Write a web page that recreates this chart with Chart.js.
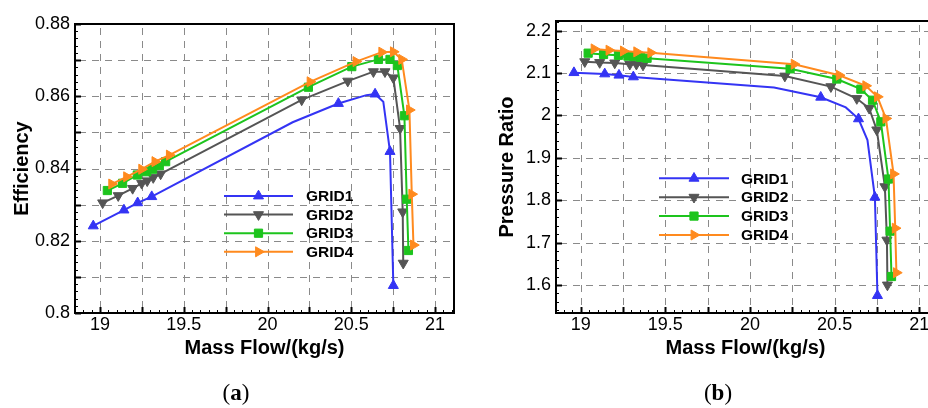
<!DOCTYPE html>
<html>
<head>
<meta charset="utf-8">
<script src="https://cdn.jsdelivr.net/npm/chart.js@4.4.1/dist/chart.umd.min.js"></script>
<style>
    html, body { margin: 0; padding: 0; background: #fff; }
    body { position: relative; width: 928px; height: 408px; overflow: hidden; }
    canvas { position: absolute; top: 0; }
    #effChart { left: 0; }
    #prChart { left: 464px; }
    .cap { position: absolute; top: 382px; width: 60px; text-align: center;
           font: 23px/22px "Liberation Serif", "DejaVu Serif", serif; color: #000; }
</style>
</head>
<body>
<canvas id="effChart" width="464" height="408"></canvas>
<canvas id="prChart" width="480" height="408"></canvas>
<div class="cap" style="left:206px">(<b>a</b>)</div>
<div class="cap" style="left:688px">(<b>b</b>)</div>
<script>
// ---- values ----
const gridNames = ['GRID1', 'GRID2', 'GRID3', 'GRID4'];

const flowTicks = [19, 19.25, 19.5, 19.75, 20, 20.25, 20.5, 20.75, 21];
const effTicks = [0.8, 0.81, 0.82, 0.83, 0.84, 0.85, 0.86, 0.87, 0.88];
const prTicks = [1.6, 1.7, 1.8, 1.9, 2, 2.1, 2.2];

// (a) efficiency vs mass flow
const effFlow1 = [18.96, 19.143, 19.225, 19.309, 20.15, 20.423, 20.59, 20.642, 20.691, 20.731, 20.751];
const effGrid1 = [0.8241, 0.8285, 0.8305, 0.8322, 0.8528, 0.858, 0.8603, 0.8606, 0.8585, 0.8447, 0.8076];
const effBends1 = [4, 6, 8]; // line vertices drawn without a symbol

const effFlow2 = [19.016, 19.109, 19.195, 19.249, 19.282, 19.318, 19.362, 20.204, 20.479, 20.632, 20.701, 20.751, 20.791, 20.807, 20.81];
const effGrid2 = [0.8305, 0.8325, 0.8345, 0.8359, 0.8366, 0.8375, 0.8385, 0.859, 0.8642, 0.8668, 0.8668, 0.8651, 0.8511, 0.828, 0.8138];

const effFlow3 = [19.044, 19.135, 19.223, 19.279, 19.314, 19.354, 19.392, 20.244, 20.503, 20.662, 20.731, 20.775, 20.817, 20.831, 20.841];
const effGrid3 = [0.8339, 0.8359, 0.8382, 0.8391, 0.8398, 0.8408, 0.8419, 0.8625, 0.8682, 0.8702, 0.8702, 0.8685, 0.8546, 0.8315, 0.8173];

const effFlow4 = [19.07, 19.159, 19.249, 19.328, 19.414, 20.254, 20.528, 20.682, 20.751, 20.801, 20.847, 20.861, 20.871];
const effGrid4 = [0.8357, 0.8377, 0.8398, 0.8419, 0.8437, 0.864, 0.8696, 0.8722, 0.8723, 0.8702, 0.8562, 0.8329, 0.8188];

// (b) pressure ratio vs mass flow
const prFlow1 = [18.96, 19.142, 19.226, 19.311, 20.142, 20.418, 20.566, 20.641, 20.694, 20.738, 20.753];
const prGrid1 = [2.101, 2.098, 2.095, 2.091, 2.066, 2.043, 2.019, 1.992, 1.942, 1.807, 1.575];
const prBends1 = [4, 6, 8];

const prFlow2 = [19.024, 19.112, 19.201, 19.29, 19.329, 19.368, 20.206, 20.478, 20.631, 20.704, 20.749, 20.797, 20.809, 20.812];
const prGrid2 = [2.127, 2.125, 2.124, 2.121, 2.121, 2.119, 2.093, 2.068, 2.04, 2.017, 1.966, 1.832, 1.706, 1.6];

const prFlow3 = [19.044, 19.135, 19.223, 19.279, 19.314, 19.354, 19.392, 20.237, 20.513, 20.655, 20.724, 20.773, 20.818, 20.828, 20.836];
const prGrid3 = [2.147, 2.144, 2.142, 2.14, 2.139, 2.137, 2.135, 2.11, 2.086, 2.062, 2.036, 1.985, 1.85, 1.727, 1.62];

const prFlow4 = [19.079, 19.167, 19.252, 19.331, 19.414, 20.261, 20.527, 20.684, 20.753, 20.803, 20.848, 20.858, 20.865];
const prGrid4 = [2.157, 2.154, 2.152, 2.15, 2.148, 2.121, 2.095, 2.07, 2.044, 1.993, 1.862, 1.734, 1.629];

(() => {
    'use strict';

    const family = "'Liberation Sans', Arial, Helvetica, sans-serif";
    const styles = [
        { color: '#3434f4', point: 'triangle', rot: 0 },
        { color: '#555555', point: 'triangle', rot: 180 },
        { color: '#1dc41d', point: 'rect', rot: 0 },
        { color: '#ff8a1e', point: 'triangle', rot: 90 }
    ];
    const markR = 5.8;
    const dashOn = 7, dashOff = 6;

    const near = (v, step) => Math.abs(v / step - Math.round(v / step)) < 1e-6;

    // tecplot style: dashed grid under the data, frame with inward ticks over it
    const frame = {
        id: 'frame',
        beforeDatasetsDraw(chart) {
            const { ctx, chartArea: a, scales: { x, y } } = chart;
            ctx.save();
            ctx.fillStyle = '#8a8a8a';
            // dashes laid down one by one so they stay crisp
            x.ticks.forEach(t => {
                const p = Math.round(x.getPixelForValue(t.value));
                for (let s = a.top + 4; s < a.bottom; s += dashOn + dashOff) {
                    ctx.fillRect(p, s, 1, Math.min(dashOn, a.bottom - s));
                }
            });
            y.ticks.forEach(t => {
                const p = Math.round(y.getPixelForValue(t.value));
                for (let s = a.left + 4; s < a.right; s += dashOn + dashOff) {
                    ctx.fillRect(s, p, Math.min(dashOn, a.right - s), 1);
                }
            });
            ctx.restore();
        },
        afterDatasetsDraw(chart, args, o) {
            const { ctx, chartArea: a, scales: { x, y } } = chart;
            ctx.save();
            ctx.strokeStyle = '#000';
            const marks = (scale, minor, major, horiz) => {
                const i0 = Math.ceil(scale.min / minor - 1e-6);
                const i1 = Math.floor(scale.max / minor + 1e-6);
                for (let i = i0; i <= i1; i++) {
                    const v = i * minor;
                    const big = near(v, major);
                    const len = big ? 6 : 3;
                    const p = Math.round(scale.getPixelForValue(v)) + 0.5;
                    ctx.lineWidth = big ? 2 : 1;
                    ctx.beginPath();
                    if (horiz) { ctx.moveTo(p, a.bottom); ctx.lineTo(p, a.bottom - len); }
                    else { ctx.moveTo(a.left, p); ctx.lineTo(a.left + len, p); }
                    ctx.stroke();
                }
            };
            marks(x, o.xMinor, o.xMajor, true);
            marks(y, o.yMinor, o.yMajor, false);
            ctx.lineWidth = 2;
            ctx.strokeRect(a.left, a.top, a.right - a.left, a.bottom - a.top);
            ctx.restore();
        }
    };

    const drawMark = (ctx, ds, cx, cy) => {
        const h = Chart.helpers;
        const opts = { pointStyle: ds.pointStyle, rotation: ds.pointRotation, radius: markR, borderWidth: 1 };
        ctx.fillStyle = ds.backgroundColor;
        ctx.strokeStyle = ds.borderColor;
        ctx.lineWidth = 1;
        if (h && h.drawPoint) { h.drawPoint(ctx, opts, cx, cy); return; }
        ctx.beginPath();
        ctx.arc(cx, cy, markR, 0, Math.PI * 2);
        ctx.fill();
    };

    // legend sitting inside the plot, line with symbol in the middle
    const gridLegend = {
        id: 'gridLegend',
        afterDraw(chart, args, o) {
            const { ctx } = chart;
            ctx.save();
            chart.data.datasets.forEach((ds, i) => {
                const y = o.y + i * o.gap;
                ctx.strokeStyle = ds.borderColor;
                ctx.lineWidth = 2;
                ctx.beginPath();
                ctx.moveTo(o.x, y);
                ctx.lineTo(o.x + o.len, y);
                ctx.stroke();
                drawMark(ctx, ds, o.x + o.len / 2, y);
                ctx.fillStyle = '#000';
                ctx.font = `bold 15.5px ${family}`;
                ctx.textBaseline = 'middle';
                ctx.textAlign = 'left';
                ctx.fillText(ds.label, o.textX, y + 1);
            });
            ctx.restore();
        }
    };

    const makeSets = rows => rows.map(([flow, vals, bends], i) => ({
        label: gridNames[i],
        data: flow.map((f, k) => ({ x: f, y: vals[k] })),
        borderColor: styles[i].color,
        backgroundColor: styles[i].color,
        borderWidth: 2,
        tension: 0,
        pointStyle: styles[i].point,
        pointRotation: styles[i].rot,
        pointRadius: c => (bends && bends.includes(c.dataIndex)) ? 0 : markR,
        pointBorderWidth: 1,
        order: 3 - i
    }));

    const tickFont = { family, size: 18 };
    const titleFont = { family, size: 20, weight: 'bold' };

    const makeChart = (canvas, c) => new Chart(canvas, {
        type: 'line',
        data: { datasets: makeSets(c.rows) },
        options: {
            responsive: false,
            animation: false,
            devicePixelRatio: 1,
            layout: { padding: { left: 0, top: c.top, right: c.right, bottom: 48 } },
            plugins: {
                legend: { display: false },
                tooltip: { enabled: false },
                frame: c.marks,
                gridLegend: c.legend
            },
            scales: {
                x: {
                    type: 'linear',
                    min: c.xMin, max: c.xMax,
                    afterBuildTicks: s => { s.ticks = flowTicks.map(v => ({ value: v })); },
                    afterFit: s => { s.height = 47; },
                    ticks: {
                        autoSkip: false, maxRotation: 0, padding: 1, color: '#000', font: tickFont,
                        callback: v => near(v, 0.5) ? String(v) : ''
                    },
                    grid: { display: false, drawTicks: false },
                    border: { display: false },
                    title: { display: true, text: 'Mass Flow/(kg/s)', color: '#000', font: titleFont, padding: 0 }
                },
                y: {
                    min: c.yMin, max: c.yMax,
                    afterBuildTicks: s => { s.ticks = c.yTicks.map(v => ({ value: v })); },
                    afterFit: s => { s.width = c.yWidth; },
                    ticks: {
                        autoSkip: false, padding: 5, color: '#000', font: tickFont,
                        callback: c.yLabel
                    },
                    grid: { display: false, drawTicks: false },
                    border: { display: false },
                    title: { display: true, text: c.yTitle, color: '#000', font: titleFont, padding: { top: c.yTitlePad, bottom: 0 } }
                }
            }
        },
        plugins: [frame, gridLegend]
    });

    makeChart(document.getElementById('effChart'), {
        rows: [[effFlow1, effGrid1, effBends1], [effFlow2, effGrid2], [effFlow3, effGrid3], [effFlow4, effGrid4]],
        top: 24, right: 10, yWidth: 75,
        xMin: 18.851, xMax: 21.113,
        yMin: 0.8, yMax: 0.88, yTicks: effTicks,
        yLabel: v => near(v, 0.02) ? String(+v.toFixed(2)) : '',
        yTitle: 'Efficiency', yTitlePad: 10,
        marks: { xMinor: 0.05, xMajor: 0.25, yMinor: 0.002, yMajor: 0.01 },
        legend: { x: 224, y: 196, gap: 18.6, len: 69, textX: 306 }
    });

    makeChart(document.getElementById('prChart'), {
        rows: [[prFlow1, prGrid1, prBends1], [prFlow2, prGrid2], [prFlow3, prGrid3], [prFlow4, prGrid4]],
        top: 21, right: 9, yWidth: 92,
        xMin: 18.854, xMax: 21.093,
        yMin: 1.5339, yMax: 2.2229, yTicks: prTicks,
        yLabel: v => String(+v.toFixed(1)),
        yTitle: 'Pressure Ratio', yTitlePad: 31,
        marks: { xMinor: 0.05, xMajor: 0.25, yMinor: 0.02, yMajor: 0.1 },
        legend: { x: 195, y: 178.3, gap: 18.9, len: 70, textX: 277 }
    });
})();
</script>
</body>
</html>
